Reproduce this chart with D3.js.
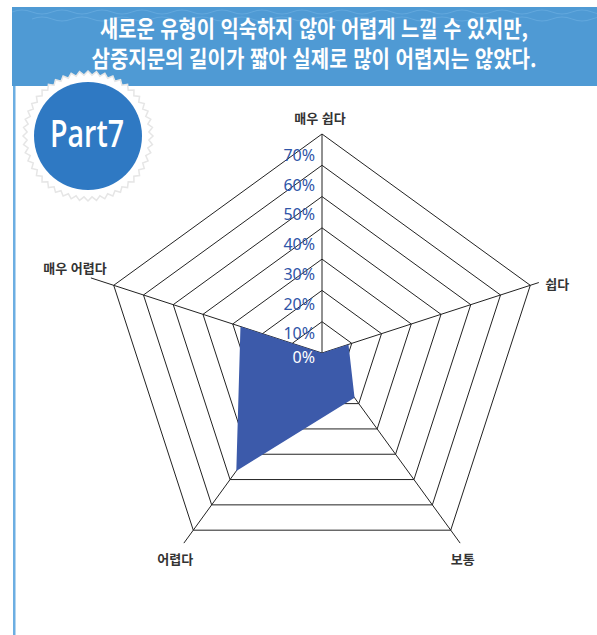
<!DOCTYPE html>
<html lang="ko">
<head>
<meta charset="utf-8">
<title>Part7 radar</title>
<script src="https://cdnjs.cloudflare.com/ajax/libs/d3/7.8.5/d3.min.js"></script>
<style>
  html, body { margin: 0; padding: 0; background: #fff; }
  svg { display: block; }
</style>
</head>
<body>
<script>
// chart data
var categories = ["매우 쉽다", "쉽다", "보통", "어렵다", "매우 어렵다"];
var values = [0, 8.9, 17.7, 46.6, 27.4];
var ticks = [0, 10, 20, 30, 40, 50, 60, 70];
var tickLabels = ["0%", "10%", "20%", "30%", "40%", "50%", "60%", "70%"];
var titleLines = ["새로운 유형이 익숙하지 않아 어렵게 느낄 수 있지만,",
                  "삼중지문의 길이가 짧아 실제로 많이 어렵지는 않았다."];
var badgeText = "Part7";

var w = 597, h = 635;
var cx = 322, cy = 353, R = 219;

var svg = d3.select("body").append("svg")
    .attr("width", w)
    .attr("height", h);

// header band
svg.append("rect")
    .attr("x", 12).attr("y", 7)
    .attr("width", w - 12).attr("height", 79)
    .attr("fill", "#4f9ad4");

// faint waves on the band
[12, 19].forEach(function (y0, k) {
  var p = "M12," + y0;
  for (var x = 12; x < w; x += 40) {
    p += " q10," + (-4) + " 20,0 t20,0";
  }
  svg.append("path")
      .attr("d", p)
      .attr("fill", "none")
      .attr("stroke", "#6fb0e2")
      .attr("stroke-width", 1)
      .attr("opacity", 0.6)
      .attr("transform", "translate(" + (k * 20) + ",0)");
});

// left border line
svg.append("rect")
    .attr("x", 13).attr("y", 86)
    .attr("width", 2.5).attr("height", h - 86)
    .attr("fill", "#6caee2");

svg.selectAll("text.title")
    .data(titleLines)
    .enter()
    .append("text")
    .attr("class", "title")
    .text(function (d) { return d; })
    .attr("x", 314)
    .attr("y", function (d, i) { return 37 + i * 30; })
    .attr("text-anchor", "middle")
    .attr("textLength", function (d, i) { return i === 0 ? 428 : 445; })
    .attr("lengthAdjust", "spacingAndGlyphs")
    .attr("font-family", "'Noto Sans CJK KR', sans-serif")
    .attr("font-weight", "bold")
    .attr("font-size", "22.5px")
    .attr("fill", "#fff");

// badge
var bx = 88, by = 136;
var teeth = 48, seal = [];
for (var i = 0; i < teeth * 2; i++) {
  var a = i * Math.PI / teeth;
  var rr = i % 2 === 0 ? 65 : 61;
  seal.push([bx + rr * Math.sin(a), by - rr * Math.cos(a)]);
}
svg.append("polygon")
    .attr("points", seal.map(function (p) { return p.join(","); }).join(" "))
    .attr("fill", "#fff")
    .attr("stroke", "#e6e6e6")
    .attr("stroke-width", 1.5);

svg.append("circle")
    .attr("cx", bx).attr("cy", by).attr("r", 54)
    .attr("fill", "#2f79c3");

svg.append("text")
    .text(badgeText)
    .attr("x", bx - 1).attr("y", 147)
    .attr("text-anchor", "middle")
    .attr("textLength", 74)
    .attr("lengthAdjust", "spacingAndGlyphs")
    .attr("font-family", "'Open Sans', sans-serif")
    .attr("font-weight", 600)
    .attr("font-size", "37px")
    .attr("fill", "#fff");

// radar
var r = d3.scaleLinear().domain([0, 70]).range([0, R]);
var n = categories.length;
function ang(i) { return i * 2 * Math.PI / n; }
function pt(i, v) {
  return [cx + r(v) * Math.sin(ang(i)), cy - r(v) * Math.cos(ang(i))];
}

var grid = svg.append("g");
var rings = ticks.filter(function (t) { return t > 0; });
grid.selectAll("polygon")
    .data(rings)
    .enter()
    .append("polygon")
    .attr("points", function (t) {
      return d3.range(n).map(function (i) { return pt(i, t).join(","); }).join(" ");
    })
    .attr("fill", "none")
    .attr("stroke", "#222")
    .attr("stroke-width", 1);

var spokeExtra = [0, 9, 16, 16, 24];
grid.selectAll("line")
    .data(categories)
    .enter()
    .append("line")
    .attr("x1", cx).attr("y1", cy)
    .attr("x2", function (d, i) { return cx + (R + spokeExtra[i]) * Math.sin(ang(i)); })
    .attr("y2", function (d, i) { return cy - (R + spokeExtra[i]) * Math.cos(ang(i)); })
    .attr("stroke", "#222")
    .attr("stroke-width", 1);

svg.append("path")
    .datum(values)
    .attr("d", d3.line()
        .x(function (d, i) { return pt(i, d)[0]; })
        .y(function (d, i) { return pt(i, d)[1]; })
        .curve(d3.curveLinearClosed))
    .attr("fill", "#3c5aaa");

svg.selectAll("text.tick")
    .data(ticks)
    .enter()
    .append("text")
    .attr("class", "tick")
    .text(function (d, i) { return tickLabels[i]; })
    .attr("x", 315)
    .attr("y", function (d) { return d === 0 ? cy + 10 : cy + 16 - 0.95 * r(d); })
    .attr("text-anchor", "end")
    .attr("font-family", "'Noto Sans', sans-serif")
    .attr("font-size", "16px")
    .attr("fill", function (d) { return d === 0 ? "#fff" : "#2f55a8"; });

// category labels: offset from the outer vertex
var labelPos = [
  { dx: -2, dy: -11, anchor: "middle" },
  { dx: 15, dy: 4, anchor: "start" },
  { dx: 12, dy: 34, anchor: "middle" },
  { dx: -18, dy: 34, anchor: "middle" },
  { dx: -7, dy: -12, anchor: "end" }
];
svg.selectAll("text.cat")
    .data(categories)
    .enter()
    .append("text")
    .attr("class", "cat")
    .text(function (d) { return d; })
    .attr("x", function (d, i) { return pt(i, 70)[0] + labelPos[i].dx; })
    .attr("y", function (d, i) { return pt(i, 70)[1] + labelPos[i].dy; })
    .attr("text-anchor", function (d, i) { return labelPos[i].anchor; })
    .attr("font-family", "'Noto Sans CJK KR', sans-serif")
    .attr("font-weight", "bold")
    .attr("font-size", "13px")
    .attr("fill", "#333");
</script>
</body>
</html>
